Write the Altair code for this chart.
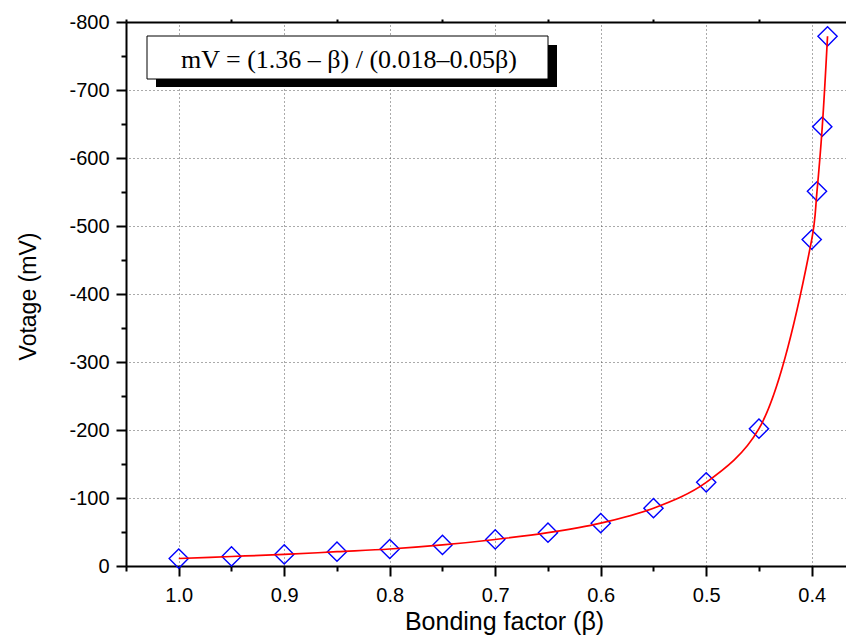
import altair as alt
import pandas as pd

# ---- data ----
beta = [1.0, 0.95, 0.9, 0.85, 0.8, 0.75, 0.7, 0.65, 0.6, 0.55, 0.5, 0.45,
        0.4, 0.395, 0.39, 0.385]
voltage = [-11, -14, -17, -21, -25, -31, -39, -49, -63, -85, -123, -202,
           -480, -551, -646, -779]

x_major = [1.0, 0.9, 0.8, 0.7, 0.6, 0.5, 0.4]
x_minor = [1.05, 0.95, 0.85, 0.75, 0.65, 0.55, 0.45]
y_major = [0, -100, -200, -300, -400, -500, -600, -700, -800]
y_minor = [-50, -150, -250, -350, -450, -550, -650, -750]

formula_text = "mV = (1.36 – β) / (0.018–0.05β)"
x_title = "Bonding factor (β)"
y_title = "Votage (mV)"

df = pd.DataFrame({"beta": beta, "mV": voltage})

SANS = "Liberation Sans"
SERIF = "Liberation Serif"

xscale = alt.Scale(domain=[0.3675, 1.05], reverse=True, nice=False, zero=False)
yscale = alt.Scale(domain=[-800, 0], reverse=True, nice=False, zero=False)

common_axis = dict(domainColor="black", domainWidth=2, tickColor="black",
                   labelColor="black", titleColor="black")
grid_style = dict(grid=True, gridColor="#555555", gridDash=[1, 3], gridWidth=1)

# minor ticks
points = alt.Chart(df).mark_point(
    shape="diamond", filled=False, color="#0000ff", size=370, strokeWidth=1.4, opacity=1
).encode(
    x=alt.X("beta:Q", scale=xscale,
            axis=alt.Axis(orient="bottom", values=x_minor, tickSize=5, tickWidth=2,
                          labels=False, grid=False, domain=False, title=None,
                          tickColor="black")),
    y=alt.Y("mV:Q", scale=yscale,
            axis=alt.Axis(orient="left", values=y_minor, tickSize=5, tickWidth=2,
                          labels=False, grid=False, domain=False, title=None,
                          tickColor="black")),
)

# major ticks, labels, grid
line = alt.Chart(df).mark_line(
    color="#ff0000", strokeWidth=1.7, interpolate="catmull-rom"
).encode(
    x=alt.X("beta:Q", scale=xscale,
            axis=alt.Axis(orient="bottom", values=x_major, format=".1f",
                          tickSize=10, tickWidth=2, labelFont=SANS, labelFontSize=20,
                          labelPadding=9, labelFlush=False, labelOverlap=False,
                          title=x_title, titleFont=SANS, titleFontSize=25,
                          titleFontWeight="normal", titleBaseline="alphabetic",
                          titleAlign="center", titleX=378, titleY=63,
                          **grid_style, **common_axis)),
    y=alt.Y("mV:Q", scale=yscale,
            axis=alt.Axis(orient="left", values=y_major,
                          labelExpr="toString(datum.value)",
                          tickSize=10, tickWidth=2, labelFont=SANS, labelFontSize=20,
                          labelPadding=7, labelFlush=False, labelOverlap=False,
                          title=y_title, titleFont=SANS, titleFontSize=23,
                          titleFontWeight="normal", titleAngle=270,
                          titleBaseline="middle", titleAlign="center",
                          titleX=-98, titleY=274, **grid_style, **common_axis)),
    order=alt.Order("beta:Q", sort="descending"),
)

# top frame line
top = alt.Chart(df).mark_point(opacity=0).encode(
    x=alt.X("beta:Q", scale=xscale,
            axis=alt.Axis(orient="top", values=x_minor, tickSize=3, tickWidth=2,
                          labels=False, grid=False, title=None,
                          domainColor="black", domainWidth=2, tickColor="black")),
    y=alt.Y("mV:Q", scale=yscale, axis=None),
)

one = alt.Data(values=[{"t": formula_text}])

shadow = alt.Chart(one).mark_rect(color="black").encode(
    x=alt.value(30), x2=alt.value(431), y=alt.value(23), y2=alt.value(65)
)
box = alt.Chart(one).mark_rect(fill="white", stroke="black", strokeWidth=1).encode(
    x=alt.value(21), x2=alt.value(422), y=alt.value(14), y2=alt.value(57)
)
label = alt.Chart(one).mark_text(
    font=SERIF, fontSize=26, color="black", align="center", baseline="middle"
).encode(
    x=alt.value(223), y=alt.value(38), text="t:N"
)

chart = alt.layer(points, line, top, shadow, box, label).resolve_scale(
    x="shared", y="shared"
).resolve_axis(
    x="independent", y="independent"
).properties(
    width=720, height=544,
    autosize=alt.AutoSizeParams(type="none"),
    padding={"left": 118, "top": 14, "right": 0, "bottom": 70},
).configure_view(stroke=None).configure(background="white")

chart.save("out.html", embed_options={"renderer": "svg", "actions": False})
